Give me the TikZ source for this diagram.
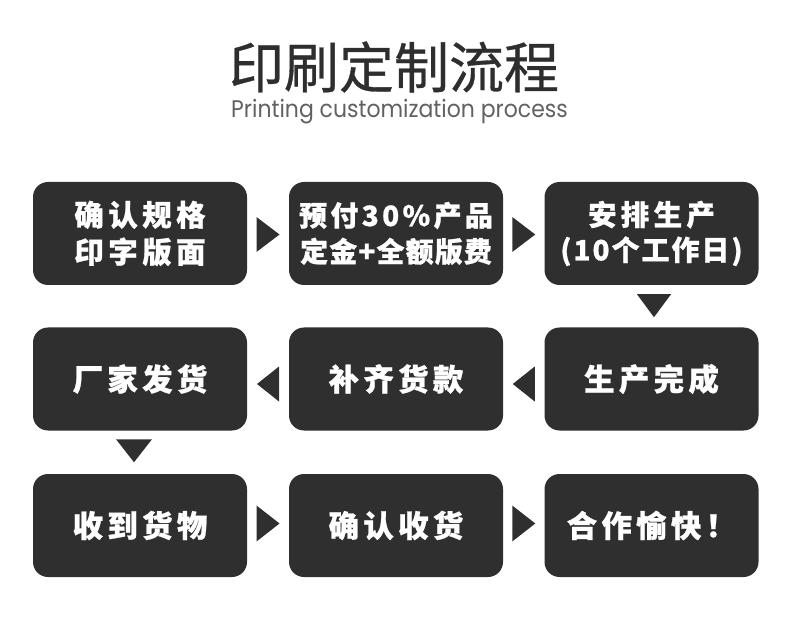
\documentclass[tikz,border=0pt]{standalone}
\usepackage{fontspec}
\usepackage{graphicx}
\usetikzlibrary{calc}
\newfontfamily\titlefont{Noto Sans CJK SC}[FakeBold=0.6]
\newfontfamily\boxA{Noto Sans CJK SC}[LetterSpace=15,FakeBold=0.8]
\newfontfamily\boxB{Noto Sans CJK SC}[LetterSpace=12,FakeBold=0.8]
\newfontfamily\boxC{Noto Sans CJK SC}[LetterSpace=4,FakeBold=0.8]
\newfontfamily\boxD{Noto Sans CJK SC}[LetterSpace=7,FakeBold=0.8]
\newfontfamily\boxE{Noto Sans CJK SC}[LetterSpace=14,FakeBold=0.8]
\newfontfamily\subfont{Poppins}
\definecolor{boxgray}{HTML}{2F2F2F}
\definecolor{titlegray}{HTML}{2E2E2E}
\definecolor{subgray}{HTML}{616161}
\begin{document}
\begin{tikzpicture}[x=1pt,y=-1pt,
  stepbox/.style={fill=boxgray, rounded corners=15pt, minimum width=214pt,
    minimum height=103pt, inner sep=0pt, text=white, align=center,
    font=\boxE\bfseries\fontsize{30.5}{37}\selectfont},
  tri/.style={fill=boxgray}]
\useasboundingbox (0,0) rectangle (790,620);
\node[font=\titlefont\fontsize{55}{55}\selectfont, text=titlegray, anchor=base,
  inner sep=0pt] (title) at (394,88) {印刷定制流程};
\node[font=\subfont\fontsize{24}{24}\selectfont, text=subgray, anchor=base,
  inner sep=0pt] (sub) at (399.5,118) {\scalebox{0.915}[1]{Printing customization process}};

\node[stepbox, font=\boxA\bfseries\fontsize{29.5}{37}\selectfont] (s1) at (140,233.5)
  {确认规格\\印字版面};
\node[stepbox, font=\boxB\bfseries\fontsize{28}{36}\selectfont] (s2) at (396,233.5)
  {预付30\%产品\\{\boxC 定金+全额版费}};
\node[stepbox, font=\boxA\bfseries\fontsize{28.5}{35}\selectfont] (s3) at (651.5,233.5)
  {安排生产\\{\boxD\fontsize{28}{35}\selectfont (10个工作日)}};
\node[stepbox] (s4) at (651.5,379) {生产完成};
\node[stepbox] (s5) at (396,379) {补齐货款};
\node[stepbox] (s6) at (140,379) {厂家发货};
\node[stepbox] (s7) at (140,525.5) {收到货物};
\node[stepbox] (s8) at (396,525.5) {确认收货};
\node[stepbox] (s9) at (651.5,525.5) {合作愉快！};

% right-pointing
\fill[tri] ($(s1.east)!0.5!(s2.west)$) ++(-11.5,-16.5) -- ++(23,17.5) -- ++(-23,17.5) -- cycle;
\fill[tri] ($(s2.east)!0.5!(s3.west)$) ++(-11.5,-16.5) -- ++(23,17.5) -- ++(-23,17.5) -- cycle;
% down
\fill[tri] ($(s3.south)!0.5!(s4.north)$) ++(-14.5,-12) -- ++(34,0) -- ++(-17,23) -- cycle;
% left-pointing
\fill[tri] ($(s4.west)!0.5!(s5.east)$) ++(11,-12.5) -- ++(-22,17.5) -- ++(22,17.5) -- cycle;
\fill[tri] ($(s5.west)!0.5!(s6.east)$) ++(11,-12.5) -- ++(-22,17.5) -- ++(22,17.5) -- cycle;
% down
\fill[tri] ($(s6.south)!0.5!(s7.north)$) ++(-24,-13) -- ++(36,0) -- ++(-18,23) -- cycle;
% right-pointing
\fill[tri] ($(s7.east)!0.5!(s8.west)$) ++(-11.5,-20) -- ++(23,18) -- ++(-23,18) -- cycle;
\fill[tri] ($(s8.east)!0.5!(s9.west)$) ++(-11.5,-20) -- ++(23,18) -- ++(-23,18) -- cycle;
\end{tikzpicture}
\end{document}
